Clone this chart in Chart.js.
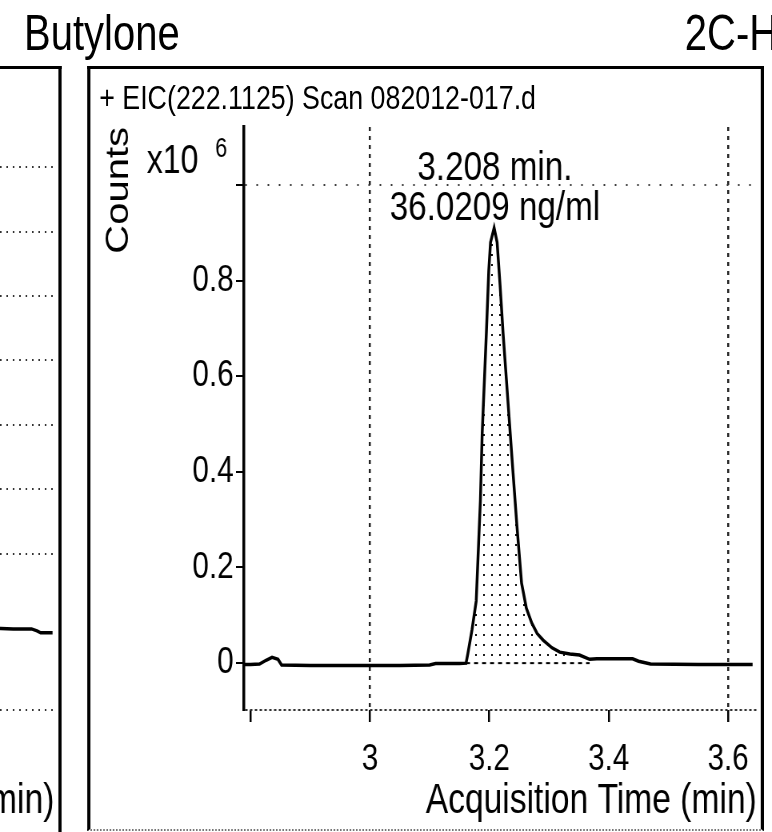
<!DOCTYPE html>
<html>
<head>
<meta charset="utf-8">
<title>Butylone EIC</title>
<script src="https://cdn.jsdelivr.net/npm/chart.js@4.4.1/dist/chart.umd.min.js"></script>
<style>
  html, body { margin: 0; padding: 0; background: #fff; overflow: hidden; }
  /* the figure is laid out 965 wide and squeezed to 772 so the type comes out tall and narrow */
  #page { position: relative; width: 965px; height: 832px; overflow: hidden; color: #000;
          transform: scaleX(0.8); transform-origin: 0 0;
          font-family: "Liberation Sans", Arial, sans-serif; }
  .compound { position: absolute; top: 4px; font-size: 50px; line-height: 58px; white-space: nowrap; }
  #nameLeft { left: 30px; }
  #nameRight { left: 856px; }
  #leftFrame { position: absolute; left: -4px; top: 66px; width: 77px; height: 800px;
               border-top: 3px solid #000; border-right: 4px solid #000; }
  #mainFrame { position: absolute; left: 109px; top: 66px; width: 838px; height: 760px;
               border: 3px solid #000; border-left-width: 4px; border-right-width: 4px;
               border-bottom: 2px dotted #777; }
  #scanTitle { position: absolute; left: 124px; top: 78px; font-size: 33.5px; line-height: 40px; white-space: nowrap; }
  #leftWrap { position: absolute; left: 0; top: 0; width: 76px; height: 832px; overflow: hidden; }
  #leftChart { position: absolute; left: -424px; top: 0; }
  #mainChart { position: absolute; left: 0; top: 0; }
</style>
</head>
<body>
<div id="page">
  <div id="leftWrap"><canvas id="leftChart" width="500" height="832"></canvas></div>
  <div id="leftFrame"></div>
  <div id="mainFrame"></div>
  <div class="compound" id="nameLeft">Butylone</div>
  <div class="compound" id="nameRight">2C-H</div>
  <div id="scanTitle">+ EIC(222.1125) Scan 082012-017.d</div>
  <canvas id="mainChart" width="965" height="832"></canvas>
</div>
<script>
// EIC trace, acquisition time (min) vs counts (x10^6)
const scanTime = [
  2.789, 2.800, 2.815, 2.826, 2.836, 2.846, 2.852, 2.900, 2.950, 3.000,
  3.050, 3.100, 3.110, 3.150, 3.161, 3.164, 3.171, 3.178, 3.182, 3.185,
  3.188, 3.192, 3.195, 3.199, 3.202, 3.208, 3.213, 3.218, 3.223, 3.231,
  3.239, 3.246, 3.254, 3.262, 3.271, 3.280, 3.290, 3.305, 3.318, 3.335,
  3.351, 3.368, 3.380, 3.440, 3.450, 3.470, 3.550, 3.641
];
const scanCounts = [
  -0.003, -0.003, -0.002, 0.006, 0.012, 0.008, -0.004, -0.005, -0.005, -0.005,
  -0.005, -0.004, -0.001, -0.001, 0.000, 0.020, 0.070, 0.130, 0.250, 0.340,
  0.480, 0.600, 0.690, 0.820, 0.880, 0.910, 0.880, 0.790, 0.690, 0.550,
  0.410, 0.290, 0.167, 0.115, 0.084, 0.062, 0.048, 0.032, 0.023, 0.019,
  0.017, 0.008, 0.009, 0.009, 0.004, -0.002, -0.003, -0.003
];
const timeTicks = [2.8, 3, 3.2, 3.4, 3.6];
const countTicks = [0, 0.2, 0.4, 0.6, 0.8, 1];
const gridTimes = [3, 3.6];

// integrated peak
const peakTime = 3.208;
const peakConc = 36.0209;
const peakStart = 3.161;
const peakEnd = 3.368;

// neighbouring panel (only its right edge shows)
const leftTime = [3.52, 3.56, 3.60, 3.612, 3.620, 3.646];
const leftCounts = [-0.016, -0.017, -0.017, -0.020, -0.023, -0.023];
const leftGrid = [0.1, 0.2, 0.3, 0.4, 0.5, 0.6, 0.7];

const X_MIN = 2.789, X_MAX = 3.648;
const Y_MIN = -0.098, Y_MAX = 1.121;
const INK = '#000';
const FAMILY = '"Liberation Sans", Arial, sans-serif';
const tickFont = { family: FAMILY, size: 37 };
const titleFont = { family: FAMILY, size: 42 };

const trace = scanTime.map((t, i) => ({ x: t, y: scanCounts[i] }));
const peakArea = trace.filter(p => p.x >= peakStart && p.x <= peakEnd);
const peakHeight = scanCounts[scanTime.indexOf(peakTime)];

function stipple() {
  const c = document.createElement('canvas');
  c.width = 10; c.height = 10;
  const g = c.getContext('2d');
  g.fillStyle = '#000';
  g.fillRect(4, 4, 2, 2);
  return g.createPattern(c, 'repeat');
}

const peakLabel = {
  id: 'peakLabel',
  afterDatasetsDraw(chart) {
    const { ctx, chartArea, scales: { x, y } } = chart;
    const px = x.getPixelForValue(peakTime);
    const py = y.getPixelForValue(peakHeight);
    ctx.save();
    ctx.fillStyle = INK;
    ctx.textBaseline = 'alphabetic';
    ctx.textAlign = 'center';
    ctx.font = '41.5px ' + FAMILY;
    ctx.fillText(peakTime.toFixed(3) + ' min.', px + 1, py - 48);
    ctx.fillText(peakConc.toFixed(4) + ' ng/ml', px + 1, py - 8);
    // axis multiplier
    ctx.textAlign = 'right';
    ctx.font = '40px ' + FAMILY;
    ctx.fillText('x10', chartArea.left - 57, chartArea.top + 46);
    ctx.font = '27px ' + FAMILY;
    ctx.fillText('6', chartArea.left - 21, chartArea.top + 30);
    ctx.restore();
  }
};

new Chart(document.getElementById('mainChart'), {
  type: 'line',
  data: {
    datasets: [
      { data: trace, borderColor: INK, borderWidth: 3.5, pointRadius: 0, fill: false, order: 0 },
      { data: [{ x: peakStart, y: 0 }, { x: peakEnd, y: 0 }], borderColor: INK, borderWidth: 2,
        borderDash: [5, 5], pointRadius: 0, fill: false, order: 1 },
      { data: peakArea, borderWidth: 0, pointRadius: 0, fill: 'origin',
        backgroundColor: stipple(), order: 2 }
    ]
  },
  options: {
    responsive: false,
    animation: false,
    layout: { padding: { left: 112, right: 19, top: 127, bottom: 0 } },
    plugins: { legend: { display: false }, tooltip: { enabled: false } },
    scales: {
      x: {
        type: 'linear', min: X_MIN, max: X_MAX,
        afterBuildTicks: s => { s.ticks = timeTicks.map(v => ({ value: v })); },
        afterFit: s => { s.height = 122; },
        border: { display: false, dash: [4, 5] },
        grid: {
          color: c => (c.tick && gridTimes.includes(c.tick.value)) ? '#222' : 'rgba(0,0,0,0)',
          lineWidth: 2.5, tickLength: 12, tickColor: INK, tickWidth: 2.5
        },
        ticks: { callback: v => v < 2.9 ? '' : String(v), font: tickFont, color: INK,
                 padding: 16, maxRotation: 0, autoSkip: false },
        title: { display: true, text: 'Acquisition Time (min)', align: 'end', font: titleFont,
                 color: INK, padding: { top: 0, bottom: 5 } }
      },
      y: {
        min: Y_MIN, max: Y_MAX,
        afterBuildTicks: s => { s.ticks = [Y_MIN].concat(countTicks).map(v => ({ value: v })); },
        afterFit: s => { s.width = 193; },
        border: { display: true, color: INK, width: 3.5,
                  dash: c => (c.tick && c.tick.value === Y_MIN) ? [3, 3] : [2, 12] },
        grid: {
          color: c => (c.tick && (c.tick.value === Y_MIN || c.tick.value === 1)) ? '#333' : 'rgba(0,0,0,0)',
          lineWidth: 2, tickLength: 10, tickWidth: 2,
          tickColor: c => (c.tick && c.tick.value === Y_MIN) ? 'rgba(0,0,0,0)' : INK
        },
        ticks: { callback: v => (v === Y_MIN || v === 1) ? '' : String(v), font: tickFont,
                 color: INK, padding: 3, autoSkip: false },
        title: { display: true, text: 'Counts', align: 'end',
                 font: { family: FAMILY, size: 40 },
                 color: INK, padding: { top: 13, bottom: 0 } }
      }
    }
  },
  plugins: [peakLabel]
});

const LEFT_Y_MIN = -0.143, LEFT_Y_MAX = 0.8;
new Chart(document.getElementById('leftChart'), {
  type: 'line',
  data: {
    datasets: [{ data: leftTime.map((t, i) => ({ x: t, y: leftCounts[i] })),
                 borderColor: INK, borderWidth: 3.5, pointRadius: 0, fill: false }]
  },
  options: {
    responsive: false,
    animation: false,
    layout: { padding: { left: 0, right: 8, top: 103, bottom: 0 } },
    plugins: { legend: { display: false }, tooltip: { enabled: false } },
    scales: {
      x: {
        type: 'linear', min: X_MIN, max: 3.65,
        afterFit: s => { s.height = 122; },
        ticks: { display: false },
        grid: { display: false },
        border: { display: false },
        title: { display: true, text: 'Acquisition Time (min)', align: 'end', font: titleFont,
                 color: INK, padding: { top: 0, bottom: 5 } }
      },
      y: {
        min: LEFT_Y_MIN, max: LEFT_Y_MAX,
        afterBuildTicks: s => { s.ticks = [LEFT_Y_MIN].concat(leftGrid).map(v => ({ value: v })); },
        afterFit: s => { s.width = 0; },
        ticks: { display: false },
        border: { display: false, dash: [2, 6] },
        grid: { color: '#333', lineWidth: 2, drawTicks: false }
      }
    }
  }
});
</script>
</body>
</html>
